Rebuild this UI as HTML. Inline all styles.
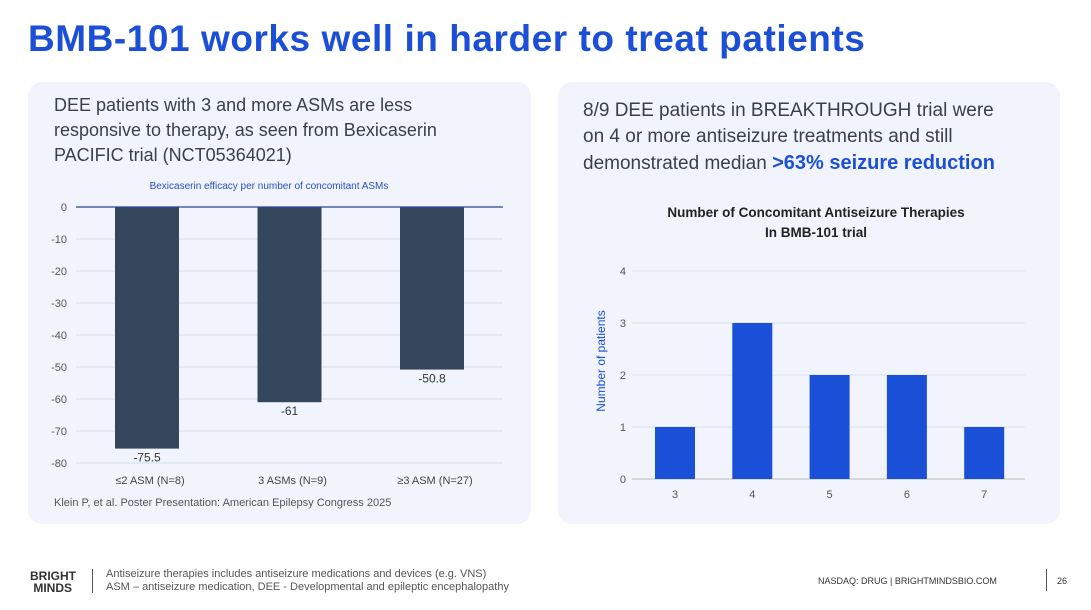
<!DOCTYPE html>
<html><head><meta charset="utf-8">
<style>
body{margin:0;width:1091px;height:610px;background:#fff;font-family:"Liberation Sans",sans-serif;position:relative;overflow:hidden}
.abs{position:absolute}
.card{position:absolute;background:#f1f4fc;border-radius:14px}
</style></head><body>
<div class="abs" style="left:28px;top:18px;font-size:37px;font-weight:bold;color:#1b4fd8;letter-spacing:0.55px">BMB-101 works well in harder to treat patients</div>
<div class="card" style="left:28px;top:82px;width:503px;height:442px"></div>
<div class="card" style="left:558px;top:82px;width:502px;height:442px"></div>
<div class="abs" style="left:54px;top:93px;width:430px;font-size:18px;line-height:25px;color:#3a3f4a">DEE patients with 3 and more ASMs are less responsive to therapy, as seen from Bexicaserin PACIFIC trial (NCT05364021)</div>
<div class="abs" style="left:583px;top:98px;width:436px;font-size:19px;line-height:26px;color:#3a3f4a">8/9 DEE patients in BREAKTHROUGH trial were on 4 or more antiseizure treatments and still demonstrated median <b style="color:#1b4fd8;font-size:20px">&gt;63% seizure reduction</b></div>
<div class="abs" style="left:54px;top:497px;font-size:11px;color:#555">Klein P, et al. Poster Presentation: American Epilepsy Congress 2025</div>
<svg class="abs" style="left:0;top:0" width="1091" height="610" id="svg"></svg>
<div class="abs" style="left:30px;top:570px;font-size:12px;font-weight:bold;line-height:12px;color:#333">BRIGHT<br>&nbsp;MINDS</div>
<div class="abs" style="left:92px;top:569px;width:1px;height:24px;background:#555"></div>
<div class="abs" style="left:106px;top:568px;font-size:11px;line-height:13px;color:#555">Antiseizure therapies includes antiseizure medications and devices (e.g. VNS)<br>ASM – antiseizure medication, DEE - Developmental and epileptic encephalopathy</div>
<div class="abs" style="left:818px;top:576px;font-size:9px;color:#333">NASDAQ: DRUG | BRIGHTMINDSBIO.COM</div>
<div class="abs" style="left:1046px;top:569px;width:1px;height:22px;background:#555"></div>
<div class="abs" style="left:1057px;top:576px;font-size:9px;color:#333">26</div>
<script>
const leftCats=["≤2 ASM (N=8)","3 ASMs (N=9)","≥3  ASM (N=27)"];
const leftVals=[-75.5,-61,-50.8];
const leftTicks=[0,-10,-20,-30,-40,-50,-60,-70,-80];
const rightCats=["3","4","5","6","7"];
const rightVals=[1,3,2,2,1];
const rightTicks=[0,1,2,3,4];
const svg=document.getElementById('svg');
const NS='http://www.w3.org/2000/svg';
function mk(t,a,txt){const e=document.createElementNS(NS,t);for(const k in a)e.setAttribute(k,a[k]);if(txt!==undefined)e.textContent=txt;svg.appendChild(e);return e;}
const ly=v=>207+(-v)/80*256;
const lx=i=>147+i*142.5;
let t=mk('text',{x:269,y:189,'font-size':10,fill:'#2a4fc4','text-anchor':'middle'},'Bexicaserin efficacy per number of concomitant ASMs');


leftTicks.forEach(v=>{
 if(v!==0){const g=mk('line',{x1:76,x2:503,y1:ly(v),y2:ly(v),stroke:'#d6dbe8','stroke-width':1});
 }
 const l=mk('text',{x:67,y:ly(v)+4,'font-size':11,fill:'#555','text-anchor':'end'},String(v));
 
 
});
leftVals.forEach((v,i)=>{
 const r=mk('rect',{x:lx(i)-32,y:ly(0),width:64,height:ly(v)-ly(0),fill:'#34465c'});
 
 
 const l=mk('text',{x:lx(i),y:ly(v)+13,'font-size':12,fill:'#333','text-anchor':'middle'},String(v));
 
 
 const c=mk('text',{x:lx(i)+3,y:484,'font-size':11,fill:'#444','text-anchor':'middle'},leftCats[i]);
 
 
});
const z=mk('line',{x1:76,x2:503,y1:ly(0),y2:ly(0),stroke:'#2a4696','stroke-width':1.2});


const ry=v=>479-v*52;
const rx=i=>675+i*77.3;
let t2=mk('text',{x:816,y:217,'font-size':13.5,'font-weight':'bold',fill:'#222','text-anchor':'middle'},'Number of Concomitant Antiseizure Therapies');


let t3=mk('text',{x:816,y:237,'font-size':13.5,'font-weight':'bold',fill:'#222','text-anchor':'middle'},'In BMB-101 trial');


rightTicks.forEach(v=>{
 const g=mk('line',{x1:632,x2:1025,y1:ry(v),y2:ry(v),stroke:v===0?'#bbb':'#dcdfe6','stroke-width':1});
 
 const l=mk('text',{x:626,y:ry(v)+4,'font-size':11,fill:'#555','text-anchor':'end'},String(v));
 
 
});
rightVals.forEach((v,i)=>{
 const r=mk('rect',{x:rx(i)-20,y:ry(v),width:40,height:ry(0)-ry(v),fill:'#1a4fd8'});
 
 
 const c=mk('text',{x:rx(i),y:498,'font-size':11,fill:'#555','text-anchor':'middle'},rightCats[i]);
 
 
});
const yt=mk('text',{x:0,y:0,'font-size':12,fill:'#1a4fd8','text-anchor':'middle',transform:'translate(605,361) rotate(-90)'},'Number of patients');


</script>
</body></html>
